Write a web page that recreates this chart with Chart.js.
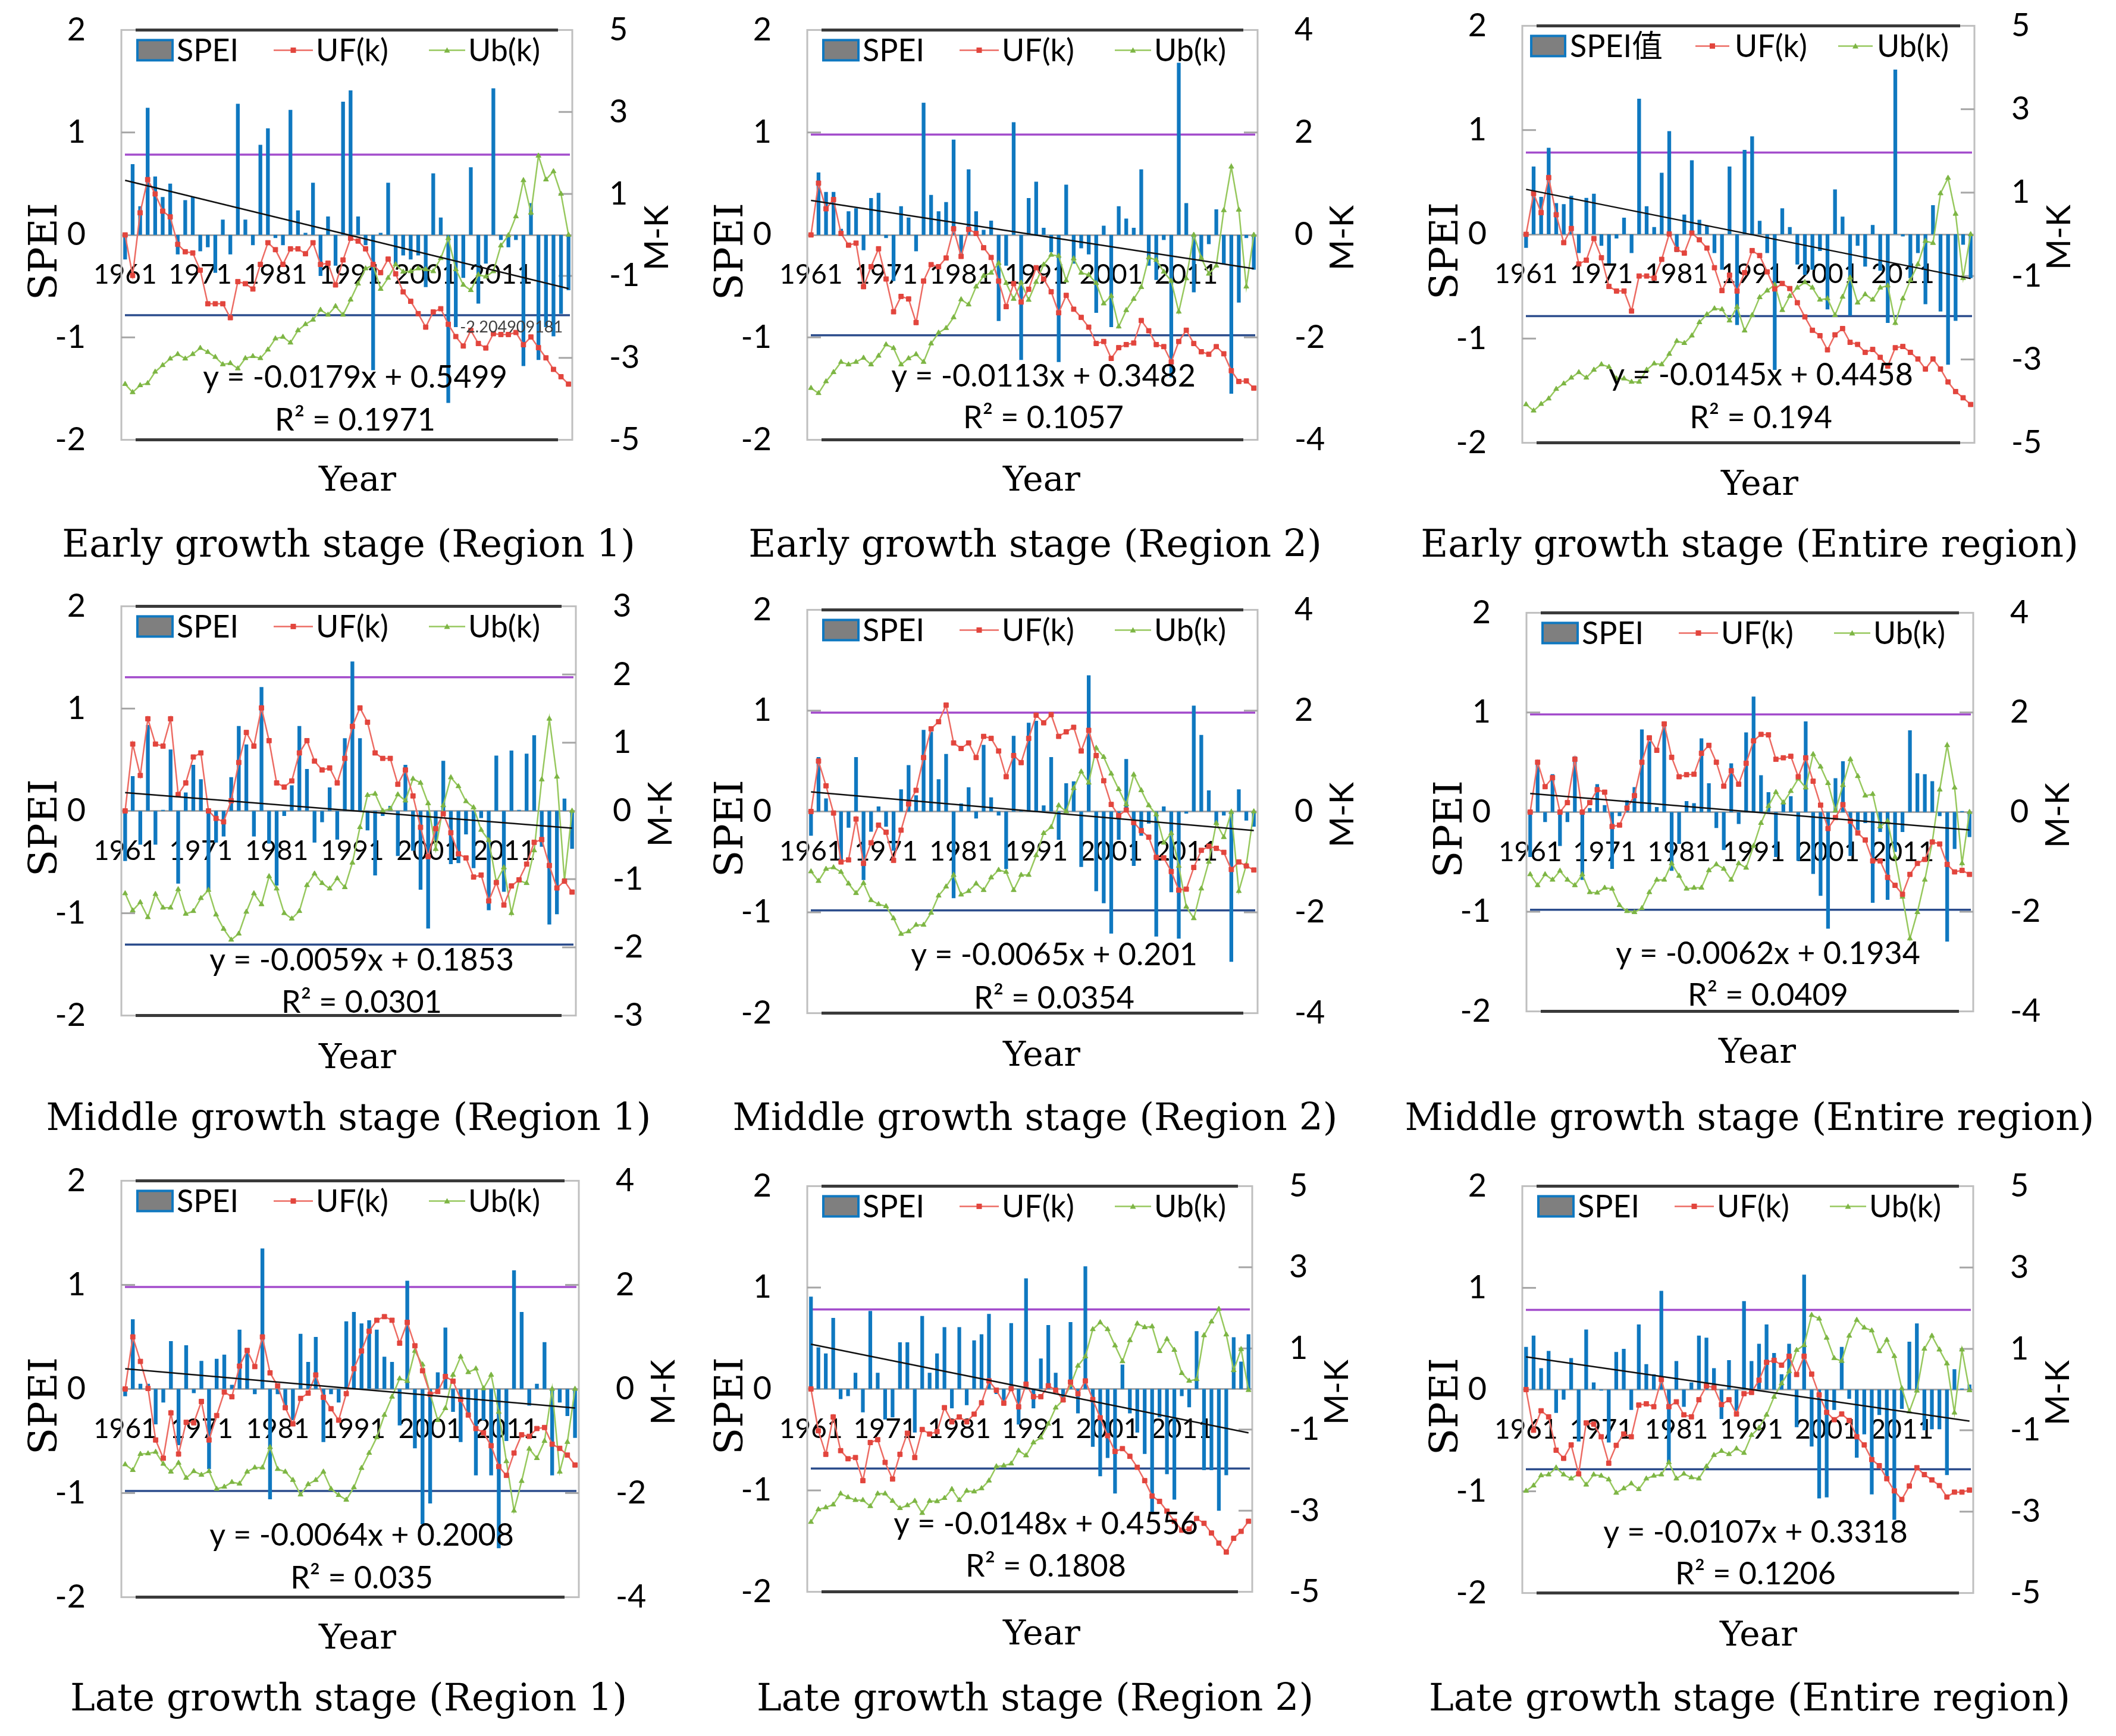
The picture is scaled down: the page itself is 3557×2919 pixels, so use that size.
<!DOCTYPE html>
<html>
<head>
<meta charset="utf-8">
<script src="https://cdn.jsdelivr.net/npm/chart.js@4.4.0/dist/chart.umd.min.js"></script>
<style>
  body { margin: 0; background: #fff; width: 3557px; height: 2919px; position: relative; overflow: hidden; }
  canvas { position: absolute; }
  .t { position: absolute; white-space: nowrap; color: #000; line-height: 1; }
  .serif { font-family: "DejaVu Serif", serif; }
  .sans { font-family: Lato, sans-serif; }
</style>
</head>
<body>
<script>
// years on the category axis
const years = Array.from({ length: 60 }, (_, i) => String(1961 + i));

// SPEI bars (left axis)
const spei1 = [-0.24,0.69,0.28,1.24,0.57,0.37,0.50,-0.19,0.34,0.37,-0.16,-0.12,-0.37,0.15,-0.19,1.28,0.15,-0.10,0.88,1.04,-0.03,-0.10,1.22,0.24,0.02,0.51,-0.40,0.18,-0.30,1.30,1.41,0.18,-0.10,-1.32,0.02,0.51,-0.30,-0.20,-0.24,-0.20,-0.51,0.60,0.17,-1.64,-0.90,-0.42,0.66,-0.67,-0.28,1.43,-0.05,-0.12,-0.05,-1.28,0.31,-1.22,-0.90,-0.99,-0.77,-0.54];
const spei2 = [0.02,0.61,0.42,0.42,0.06,0.23,0.26,-0.15,0.36,0.41,-0.03,-0.45,0.28,0.17,-0.16,1.29,0.39,0.23,0.32,0.93,-0.20,0.64,0.23,0.05,0.14,-0.84,-0.30,1.10,-1.22,0.36,0.52,0.07,-0.17,-1.24,0.49,-0.28,-0.13,-0.19,-0.76,0.09,-0.90,0.28,0.16,0.07,0.64,-0.30,-0.44,-0.05,-1.39,1.68,0.31,-0.56,-0.23,-0.09,0.25,-0.29,-1.55,-0.66,-0.03,-0.34];
const spei3 = [-0.13,0.65,0.36,0.83,0.30,0.29,0.37,-0.18,0.35,0.39,-0.11,-0.28,-0.04,0.16,-0.18,1.30,0.27,0.07,0.59,0.99,-0.17,0.19,0.71,0.14,0.08,-0.18,-0.34,0.65,-0.87,0.81,0.94,0.13,-0.18,-1.30,0.25,0.07,-0.29,-0.39,-0.34,-0.16,-0.72,0.43,0.17,-0.78,-0.11,-0.31,0.09,-0.35,-0.85,1.58,-0.02,-0.42,-0.18,-0.67,0.28,-0.74,-1.25,-0.83,-0.10,-0.42];
const spei4 = [-0.49,0.34,-0.33,0.84,-0.33,0.01,0.60,-0.71,0.18,0.45,0.31,-0.77,-0.31,-0.25,0.33,0.83,0.65,-0.25,1.21,-0.32,-0.73,-0.05,0.25,0.83,0.41,-0.31,-0.11,0.23,-0.28,0.71,1.46,0.71,-0.19,-0.63,-0.05,0.05,-0.44,0.45,-0.39,-0.77,-1.15,-0.29,0.49,-0.52,-0.51,-0.23,-0.56,-0.07,-0.97,0.54,-0.79,0.59,0.01,0.56,0.74,-0.35,-1.11,-1.01,0.12,-0.37];
const spei5 = [-0.24,0.54,0.13,-0.04,-0.50,-0.16,0.54,-0.68,-0.20,0.05,-0.15,-0.39,0.22,0.46,0.16,0.81,0.79,0.32,0.57,-0.86,0.08,0.24,-0.07,0.66,0.14,-0.04,-0.57,0.75,0.01,0.88,0.90,0.06,0.54,-0.28,0.28,0.30,-0.55,1.35,-0.79,-0.91,-1.21,-0.28,0.52,-0.54,-0.24,-0.12,-1.24,0.05,-0.80,-1.26,-0.02,1.05,0.76,0.21,-0.12,-0.04,-1.49,0.22,-0.09,-0.15];
const spei6 = [-0.45,0.48,-0.10,0.38,-0.34,-0.10,0.56,-0.68,0.04,0.28,0.07,-0.57,-0.04,0.12,0.25,0.83,0.71,0.05,0.86,-0.59,-0.32,0.11,0.09,0.74,0.29,-0.16,-0.38,0.49,-0.12,0.80,1.16,0.37,0.20,-0.45,0.12,0.16,-0.49,0.91,-0.62,-0.84,-1.17,0.34,0.51,-0.44,-0.18,-0.11,-0.91,-0.20,-0.88,-0.40,-0.20,0.82,0.39,0.38,0.31,-0.04,-1.30,-0.37,0.01,-0.25];
const spei7 = [-0.07,0.67,0.05,0.05,-0.34,-0.13,0.46,-0.54,0.42,-0.04,0.27,-0.77,0.29,0.33,0.04,0.57,0.37,-0.05,1.35,-1.06,-0.05,-0.18,-0.30,0.53,0.26,0.50,-0.51,-0.05,-0.13,0.65,0.74,0.63,0.66,0.57,0.31,0.26,-0.35,1.04,-0.57,-1.30,-1.10,0.16,0.59,-0.22,-0.51,-0.24,-0.83,-0.30,-0.83,-1.53,-0.50,1.14,0.74,-0.16,0.05,0.45,-0.83,-0.13,-0.26,-0.47];
const spei8 = [0.91,0.41,0.35,0.70,-0.10,-0.07,0.16,-0.23,0.77,0.16,-0.30,-0.28,0.46,0.46,-0.43,0.72,0.16,0.35,0.61,-0.19,0.61,-0.16,0.48,0.54,0.74,-0.05,-0.14,0.65,-0.35,1.09,-0.19,0.30,0.63,0.16,-0.09,0.66,-0.24,1.21,-0.57,-0.86,-0.68,-1.03,0.24,-0.24,-0.43,-0.64,-1.23,-0.28,-0.84,-1.09,-0.07,-0.18,0.57,-0.80,-0.80,-1.20,-0.85,0.51,0.27,0.54];
const spei9 = [0.42,0.53,0.21,0.38,-0.23,-0.10,0.31,-0.51,0.59,0.07,-0.01,-0.52,0.37,0.40,-0.20,0.64,0.25,0.15,0.97,-0.72,0.28,-0.17,0.07,0.53,0.51,0.21,-0.29,0.29,-0.21,0.87,0.28,0.45,0.64,0.36,0.15,0.45,-0.37,1.13,-0.56,-1.07,-1.06,-0.20,0.42,-0.09,-0.67,-0.44,-1.03,-0.25,-0.86,-1.28,-0.19,0.47,0.65,-0.40,-0.39,-0.39,-0.84,0.20,0.01,0.05];

// UF(k) statistic (right axis)
const uf1 = [0,-0.99,0.54,1.35,1.0,0.58,0.44,-0.23,-0.41,-0.44,-0.86,-1.68,-1.68,-1.68,-2.02,-1.14,-1.19,-1.32,-0.72,-0.19,-0.36,-0.72,-0.34,-0.34,-0.46,-0.19,-0.72,-0.69,-1.22,-0.61,-0.08,-0.15,-0.34,-0.72,-0.92,-0.59,-0.95,-1.39,-1.62,-1.92,-2.25,-1.88,-1.80,-2.18,-2.48,-2.71,-2.33,-2.65,-2.76,-2.41,-2.43,-2.43,-2.38,-2.68,-2.49,-2.75,-3.0,-3.28,-3.46,-3.64];
const uf2 = [0,1.01,0.51,0.69,0.03,-0.20,-0.16,-1.01,-0.62,-0.27,-0.86,-1.50,-1.20,-1.25,-1.71,-0.90,-0.58,-0.62,-0.45,0.12,-0.42,0.11,0.03,-0.25,-0.44,-0.90,-1.40,-0.95,-1.31,-1.06,-0.64,-0.86,-1.11,-1.52,-1.18,-1.45,-1.61,-1.80,-2.12,-2.08,-2.41,-2.20,-2.14,-2.11,-1.67,-1.87,-2.14,-2.18,-2.48,-2.08,-1.86,-2.12,-2.28,-2.33,-2.18,-2.32,-2.65,-2.86,-2.85,-2.99];
const uf3 = [0,0.98,0.52,1.36,0.47,-0.20,0.14,-0.71,-0.62,-0.10,-0.56,-1.25,-1.36,-1.36,-1.84,-1.0,-1.0,-1.05,-0.60,0.01,-0.36,-0.45,0.03,-0.13,-0.33,-0.80,-1.35,-0.98,-1.36,-0.92,-0.39,-0.51,-0.90,-1.31,-1.18,-1.30,-1.64,-1.98,-2.30,-2.43,-2.77,-2.41,-2.26,-2.59,-2.64,-2.83,-2.76,-2.95,-3.16,-2.72,-2.69,-2.83,-2.99,-3.23,-2.99,-3.23,-3.54,-3.77,-3.92,-4.08];
const uf4 = [0,0.98,0.52,1.35,0.98,0.95,1.35,0.24,0.41,0.79,0.85,0,-0.11,-0.16,0.15,0.71,1.15,0.95,1.51,1.03,0.41,0.35,0.44,0.85,1.03,0.73,0.60,0.63,0.41,0.77,1.24,1.51,1.30,0.85,0.77,0.77,0.39,0.60,0.22,-0.24,-0.67,-0.26,-0.04,-0.32,-0.63,-0.69,-0.97,-0.94,-1.32,-1.05,-1.38,-1.10,-1.01,-0.78,-0.46,-0.42,-0.80,-1.13,-1.03,-1.19];
const uf5 = [0,1.0,0.51,-0.03,-1.0,-0.96,-0.15,-1.03,-0.62,-0.27,-0.41,-0.97,-0.37,0.15,0.42,1.07,1.64,1.78,2.11,1.36,1.25,1.36,1.07,1.49,1.45,1.20,0.69,1.11,0.97,1.45,1.91,1.76,1.92,1.49,1.58,1.67,1.20,1.61,1.11,0.61,0.14,-0.08,0.03,-0.22,-0.38,-0.51,-0.91,-0.92,-1.19,-1.56,-1.54,-1.11,-0.77,-0.69,-0.73,-0.81,-1.15,-1.0,-1.08,-1.16];
const uf6 = [0,1.0,0.51,0.69,0,0.19,1.06,0,0.19,0.45,0.40,-0.29,-0.26,0.08,0.33,1.0,1.49,1.24,1.77,1.10,0.71,0.75,0.76,1.18,1.34,1.0,0.52,0.83,0.56,0.98,1.43,1.56,1.55,1.06,1.09,1.12,0.71,1.09,0.62,0.14,-0.33,-0.11,0.15,-0.18,-0.42,-0.56,-0.98,-0.98,-1.31,-1.47,-1.65,-1.25,-1.03,-0.95,-0.60,-0.64,-1.05,-1.20,-1.17,-1.25];
const uf7 = [0,1.0,0.53,0.01,-0.98,-1.33,-0.46,-1.25,-0.64,-0.65,-0.24,-0.98,-0.51,-0.06,-0.15,0.44,0.74,0.43,1.0,0.31,0.06,-0.36,-0.67,-0.18,-0.08,0.27,-0.16,-0.38,-0.60,-0.09,0.39,0.73,1.11,1.32,1.39,1.32,0.88,1.28,0.83,0.35,-0.10,-0.05,0.24,0.15,-0.20,-0.50,-0.76,-0.84,-1.09,-1.49,-1.66,-1.23,-0.88,-0.91,-0.76,-0.74,-1.06,-1.14,-1.27,-1.46];
const uf8 = [0,-1.03,-1.61,-0.69,-1.52,-1.72,-1.69,-2.26,-1.32,-1.25,-1.81,-2.22,-1.61,-1.09,-1.69,-1.0,-1.11,-1.05,-0.46,-0.81,-0.69,-0.81,-0.62,-0.34,0.20,-0.03,-0.35,0.01,-0.44,0.12,-0.19,-0.19,0.08,-0.03,-0.27,0.17,-0.12,0.20,-0.26,-0.71,-1.15,-1.54,-1.47,-1.66,-1.93,-2.26,-2.64,-2.77,-3.01,-3.26,-3.48,-3.45,-3.19,-3.31,-3.55,-3.80,-4.02,-3.68,-3.51,-3.26];
const uf9 = [0,-1.0,-0.52,-0.67,-1.49,-1.69,-1.36,-2.07,-0.82,-0.85,-1.16,-1.81,-1.37,-1.09,-1.16,-0.38,-0.35,-0.42,0.25,-0.42,-0.30,-0.62,-0.67,-0.25,0.09,0.05,-0.37,-0.25,-0.60,-0.10,-0.07,0.23,0.67,0.72,0.60,0.82,0.37,0.82,0.38,-0.13,-0.56,-0.74,-0.60,-0.76,-1.16,-1.36,-1.72,-1.87,-2.19,-2.49,-2.70,-2.37,-1.92,-2.09,-2.22,-2.36,-2.64,-2.52,-2.52,-2.47];

// Ub(k) statistic (right axis)
const ub1 = [-3.64,-3.84,-3.67,-3.62,-3.34,-3.18,-3.02,-2.91,-3.02,-2.91,-2.76,-2.86,-2.98,-3.16,-3.13,-3.26,-3.01,-2.96,-3.01,-2.80,-2.53,-2.49,-2.63,-2.33,-2.18,-2.07,-1.83,-1.95,-1.74,-1.95,-1.58,-1.19,-0.82,-0.74,-1.32,-1.05,-0.72,-0.90,-0.89,-0.82,-0.84,-0.89,-0.57,-0.08,-0.84,-1.22,-1.35,-0.97,-1.02,-0.89,-0.26,-0.01,0.45,1.33,0.54,1.93,1.35,1.55,1.00,0];
const ub2 = [-2.99,-3.09,-2.86,-2.68,-2.48,-2.53,-2.48,-2.40,-2.53,-2.36,-2.14,-2.21,-2.53,-2.41,-2.33,-2.48,-2.12,-1.91,-1.82,-1.61,-1.26,-1.36,-1.01,-0.80,-0.74,-0.55,-0.94,-1.25,-0.93,-1.27,-0.92,-0.58,-0.39,-0.41,-0.89,-0.46,-0.74,-0.78,-0.94,-1.34,-1.19,-1.79,-1.47,-1.25,-1.02,-0.44,-0.49,-0.72,-0.90,-1.50,-0.85,0,-0.45,-0.76,-0.60,0.48,1.33,0.49,-1.01,0];
const ub3 = [-4.08,-4.23,-4.07,-3.94,-3.71,-3.58,-3.44,-3.31,-3.44,-3.25,-3.12,-3.18,-3.46,-3.46,-3.54,-3.54,-3.25,-3.10,-3.12,-2.87,-2.56,-2.61,-2.43,-2.11,-1.92,-1.78,-1.80,-2.07,-1.74,-2.31,-1.94,-1.51,-1.35,-1.21,-1.82,-1.48,-1.28,-1.15,-1.28,-1.57,-1.54,-1.94,-1.50,-1.04,-1.64,-1.44,-1.57,-1.28,-1.23,-2.13,-1.54,-1.10,-0.72,-0.16,-0.21,0.98,1.35,0.49,-1.05,0];
const ub4 = [-1.21,-1.46,-1.34,-1.56,-1.22,-1.42,-1.42,-1.15,-1.51,-1.47,-1.28,-1.16,-1.52,-1.73,-1.89,-1.80,-1.48,-1.21,-1.37,-0.96,-1.14,-1.50,-1.58,-1.47,-1.09,-0.92,-1.06,-1.14,-0.99,-1.12,-0.76,-0.24,0.23,0.25,0,0.03,0.24,0.15,0.47,0.41,0.11,-0.56,0.08,0.49,0.36,0.14,0.05,-0.28,-0.43,-1.04,-0.83,-1.50,-1.02,-1.06,-0.58,0.46,1.35,0.50,-1.02,0];
const ub5 = [-1.19,-1.38,-1.14,-1.11,-1.20,-1.43,-1.62,-1.42,-1.76,-1.84,-1.88,-2.12,-2.43,-2.38,-2.25,-2.25,-2.01,-1.67,-1.49,-1.26,-1.65,-1.58,-1.43,-1.56,-1.31,-1.16,-1.20,-1.56,-1.26,-1.26,-0.87,-0.43,-0.31,0.12,0,0.46,0.79,0.57,1.26,1.08,0.75,0.44,0.14,0.73,0.42,0.12,-0.06,-0.62,-0.43,-1.08,-1.89,-2.12,-1.53,-1.0,-0.23,-0.51,-0.01,-1.58,-1.06,0];
const ub6 = [-1.25,-1.47,-1.25,-1.36,-1.18,-1.36,-1.47,-1.25,-1.61,-1.62,-1.52,-1.54,-1.87,-1.99,-2.01,-1.93,-1.61,-1.36,-1.36,-1.03,-1.28,-1.54,-1.52,-1.52,-1.17,-1.05,-1.14,-1.36,-1.03,-1.12,-0.68,-0.22,0.12,0.40,0.19,0.42,0.67,0.49,1.16,0.91,0.58,0.03,0.54,1.06,0.72,0.33,0.36,-0.29,-0.18,-0.90,-1.70,-2.54,-2.01,-1.36,-0.60,0.45,1.34,0.49,-1.03,0];
const ub7 = [-1.45,-1.56,-1.25,-1.24,-1.21,-1.44,-1.59,-1.42,-1.71,-1.58,-1.65,-1.58,-1.92,-1.88,-1.79,-1.82,-1.59,-1.51,-1.51,-1.12,-1.54,-1.59,-1.75,-2.03,-1.83,-1.75,-1.59,-1.92,-2.04,-2.13,-1.89,-1.52,-1.23,-0.93,-0.50,-0.15,0.20,0.15,0.73,0.47,-0.09,-0.60,-0.37,0.27,0.62,0.32,0.39,0.01,0.27,-0.44,-1.39,-2.34,-1.77,-1.15,-1.33,-1.0,0,-1.59,-1.02,0];
const ub8 = [-3.28,-2.97,-2.92,-2.85,-2.58,-2.67,-2.74,-2.74,-2.89,-2.58,-2.58,-2.76,-2.94,-2.87,-2.76,-3.06,-2.76,-2.77,-2.69,-2.47,-2.74,-2.51,-2.53,-2.45,-2.26,-1.91,-1.89,-1.84,-1.52,-1.64,-1.32,-1.20,-0.86,-0.46,-0.27,0.10,0.57,0.80,1.47,1.64,1.47,1.07,0.68,1.20,1.61,1.52,1.54,0.93,1.23,0.96,0.39,0.20,0.24,1.32,1.66,1.97,1.34,0.46,0.98,-0.03];
const ub9 = [-2.49,-2.36,-2.11,-2.09,-1.92,-2.09,-2.19,-2.07,-2.34,-2.09,-2.12,-2.21,-2.54,-2.43,-2.31,-2.45,-2.19,-2.12,-2.09,-1.79,-2.19,-2.07,-2.16,-2.19,-1.89,-1.61,-1.51,-1.59,-1.45,-1.56,-1.12,-0.94,-0.62,-0.18,0.15,0.45,0.97,1.09,1.83,1.74,1.27,0.77,0.70,1.32,1.71,1.52,1.45,0.94,1.22,0.82,0.03,-0.54,-0.03,1.0,1.32,0.98,0.64,-0.57,0.98,-0.02];

// linear trend of SPEI (y = a*x + b, x = 1..60) and R²
const trendSlope = [-0.0179, -0.0113, -0.0145, -0.0059, -0.0065, -0.0062, -0.0064, -0.0148, -0.0107];
const trendIntercept = [0.5499, 0.3482, 0.4458, 0.1853, 0.201, 0.1934, 0.2008, 0.4556, 0.3318];
const rSquared = [0.1971, 0.1057, 0.194, 0.0301, 0.0354, 0.0409, 0.035, 0.1808, 0.1206];

// M-K axis range and step, critical values
const mkMax = [5, 4, 5, 3, 4, 4, 4, 5, 5];
const mkStep = [2, 2, 2, 1, 2, 2, 2, 2, 2];
const critical = [1.96, -1.96];

const captions = [
  'Early growth stage (Region 1)', 'Early growth stage (Region 2)', 'Early growth stage (Entire region)',
  'Middle growth stage (Region 1)', 'Middle growth stage (Region 2)', 'Middle growth stage (Entire region)',
  'Late growth stage (Region 1)', 'Late growth stage (Region 2)', 'Late growth stage (Entire region)'
];
const speiLegend = ['SPEI', 'SPEI', 'SPEI值', 'SPEI', 'SPEI', 'SPEI', 'SPEI', 'SPEI', 'SPEI'];

const speiData = [spei1, spei2, spei3, spei4, spei5, spei6, spei7, spei8, spei9];
const ufData = [uf1, uf2, uf3, uf4, uf5, uf6, uf7, uf8, uf9];
const ubData = [ub1, ub2, ub3, ub4, ub5, ub6, ub7, ub8, ub9];

// ---- layout (page pixels) ----
const frames = [
  [204, 50, 962, 740], [1357, 50, 2114, 740], [2559, 43, 3319, 745],
  [204, 1019, 968, 1708], [1357, 1025, 2114, 1704], [2566, 1030, 3317, 1701],
  [204, 1985, 973, 2686], [1357, 1994, 2105, 2677], [2559, 1994, 3317, 2679]
];
const eqPos = [
  [597, 635, 707], [1754, 633, 703], [2960, 631, 703],
  [608, 1615, 1686], [1772, 1606, 1679], [2972, 1604, 1674],
  [608, 2582, 2654], [1758, 2563, 2634], [2951, 2577, 2647]
];
const yearPos = [[601, 805], [1751, 805], [2958, 812], [601, 1776], [1751, 1772], [2954, 1767], [601, 2752], [1751, 2745], [2956, 2747]];
const capX = [586, 1740, 2941];
const capY = [914, 1878, 2854];
const legendStd = { box: [27, 86], text: 93, uf: [256, 322], ufText: 327, ub: [517, 578], ubText: 583 };
const legendWide = { box: [15, 72], text: 80, uf: [291, 348], ufText: 357, ub: [531, 589], ubText: 596 };

const SIDE = 200, VPAD = 40;
const BLUE = '#0f78c0', RED = '#e2453d', RED_L = '#ec6b63', GREEN = '#7db544', GREEN_L = '#97c85e';
const SANS = 'Lato, "Noto Sans CJK SC", sans-serif';

function addText(txt, x, y, cls, size, rotate) {
  const d = document.createElement('div');
  d.className = 't ' + cls;
  d.textContent = txt;
  d.style.left = x + 'px';
  d.style.top = y + 'px';
  d.style.fontSize = size + 'px';
  d.style.transform = 'translate(-50%,-50%)' + (rotate ? ' rotate(-90deg)' : '');
  document.body.appendChild(d);
}

function line(ctx, x1, y1, x2, y2) {
  ctx.beginPath(); ctx.moveTo(x1, y1); ctx.lineTo(x2, y2); ctx.stroke();
}

const decor = {
  id: 'decor',
  beforeDatasetsDraw(chart, args, o) {
    const { ctx, chartArea: a, scales } = chart;
    ctx.save();
    ctx.strokeStyle = '#bfbfbf'; ctx.lineWidth = 3;
    ctx.strokeRect(a.left, a.top, a.width, a.height);
    ctx.strokeStyle = '#3a3a3a'; ctx.lineWidth = 5;
    line(ctx, a.left + 24, a.top, a.right - 24, a.top);
    line(ctx, a.left + 24, a.bottom, a.right - 24, a.bottom);
    // short inner tick marks
    ctx.strokeStyle = '#a6a6a6'; ctx.lineWidth = 3;
    scales.y.ticks.forEach(t => {
      if (t.value > scales.y.min && t.value < scales.y.max && t.value !== 0) {
        const py = scales.y.getPixelForValue(t.value);
        line(ctx, a.left, py, a.left + 23, py);
      }
    });
    scales.y2.ticks.forEach(t => {
      if (t.value > scales.y2.min && t.value < scales.y2.max && t.value !== 0) {
        const py = scales.y2.getPixelForValue(t.value);
        line(ctx, a.right - 23, py, a.right, py);
      }
    });
    // critical value lines of the M-K test
    ctx.lineWidth = 3.5;
    ctx.strokeStyle = '#a34ccc';
    let py = scales.y2.getPixelForValue(critical[0]);
    line(ctx, a.left + 6, py, a.right - 4, py);
    ctx.strokeStyle = '#2b4c8c';
    py = scales.y2.getPixelForValue(critical[1]);
    line(ctx, a.left + 6, py, a.right - 4, py);
    ctx.restore();
  },
  afterDraw(chart, args, o) {
    const { ctx, chartArea: a } = chart;
    const lg = o.legend;
    const ly = a.top + 34;
    // page -> canvas offset: chart area left/top sit on the frame
    const dx = a.left - o.frame[0], dy = a.top - o.frame[1];
    ctx.save();
    // legend
    ctx.fillStyle = '#7f7f7f'; ctx.strokeStyle = BLUE; ctx.lineWidth = 4;
    ctx.fillRect(a.left + lg.box[0], ly - 17, lg.box[1] - lg.box[0], 34);
    ctx.strokeRect(a.left + lg.box[0], ly - 17, lg.box[1] - lg.box[0], 34);
    ctx.font = '52px ' + SANS; ctx.fillStyle = '#000'; ctx.textBaseline = 'middle'; ctx.textAlign = 'left';
    ctx.fillText(o.speiLabel, a.left + lg.text, ly + 2);
    ctx.fillText('UF(k)', a.left + lg.ufText, ly + 2);
    ctx.fillText('Ub(k)', a.left + lg.ubText, ly + 2);
    ctx.lineWidth = 2.5;
    ctx.strokeStyle = RED_L; line(ctx, a.left + lg.uf[0], ly, a.left + lg.uf[1], ly);
    ctx.fillStyle = RED;
    const mx = a.left + (lg.uf[0] + lg.uf[1]) / 2;
    ctx.fillRect(mx - 4.5, ly - 4.5, 9, 9);
    ctx.strokeStyle = GREEN_L; line(ctx, a.left + lg.ub[0], ly, a.left + lg.ub[1], ly);
    ctx.fillStyle = GREEN;
    const gx = a.left + (lg.ub[0] + lg.ub[1]) / 2;
    ctx.beginPath(); ctx.moveTo(gx, ly - 5); ctx.lineTo(gx + 5, ly + 4); ctx.lineTo(gx - 5, ly + 4); ctx.closePath(); ctx.fill();
    // trend equation
    ctx.fillStyle = '#000'; ctx.textAlign = 'center';
    ctx.font = '52px ' + SANS;
    ctx.fillText(o.eq, o.eqX + dx, o.eqY + dy);
    ctx.fillText(o.r2, o.eqX + dx, o.r2Y + dy);
    if (o.note) {
      ctx.font = '27px ' + SANS; ctx.fillStyle = '#404040';
      ctx.fillText(o.note.text, chart.scales.x.getPixelForValue(o.note.x), chart.scales.y.getPixelForValue(o.note.y));
    }
    ctx.restore();
  }
};

function buildConfig(k) {
  const a = trendSlope[k], b = trendIntercept[k];
  return {
    type: 'bar',
    data: {
      labels: years,
      datasets: [
        { type: 'line', label: 'trend', yAxisID: 'y', order: 0,
          data: [{ x: years[0], y: a * 1 + b }, { x: years[years.length - 1], y: a * years.length + b }],
          borderColor: '#111', borderWidth: 2.5, pointRadius: 0 },
        { type: 'line', label: 'UF(k)', yAxisID: 'y2', order: 1, data: ufData[k],
          borderColor: RED_L, borderWidth: 2.5, pointStyle: 'rect', pointRadius: 5.5,
          pointBackgroundColor: RED, pointBorderColor: RED, pointBorderWidth: 1 },
        { type: 'line', label: 'Ub(k)', yAxisID: 'y2', order: 2, data: ubData[k],
          borderColor: GREEN_L, borderWidth: 2.5, pointStyle: 'triangle', pointRadius: 5,
          pointBackgroundColor: GREEN, pointBorderColor: GREEN, pointBorderWidth: 1 },
        { type: 'bar', label: 'SPEI', yAxisID: 'y', order: 3, data: speiData[k],
          backgroundColor: BLUE, barPercentage: 0.5, categoryPercentage: 1 }
      ]
    },
    options: {
      responsive: false,
      maintainAspectRatio: false,
      animation: false,
      devicePixelRatio: 1,
      layout: { padding: { top: VPAD, bottom: VPAD, left: 0, right: 0 } },
      plugins: {
        legend: { display: false },
        tooltip: { enabled: false },
        decor: {
          frame: frames[k],
          legend: k === 2 ? legendWide : legendStd,
          speiLabel: speiLegend[k],
          eq: 'y = ' + a + 'x + ' + b,
          r2: 'R² = ' + rSquared[k],
          eqX: eqPos[k][0], eqY: eqPos[k][1], r2Y: eqPos[k][2],
          note: k === 0 ? { text: '-2.204909181', x: 51.4, y: -0.9 } : null
        }
      },
      scales: {
        x: {
          type: 'category', position: { y: 0 }, offset: true, z: 1,
          grid: { display: false, drawTicks: false },
          border: { display: true, color: '#a6a6a6', width: 3 },
          ticks: {
            autoSkip: false, maxRotation: 0, minRotation: 0, padding: 40, color: '#000',
            font: { family: SANS, size: 46 },
            callback: (v, i) => (i % 10 === 0 ? years[i] : '')
          }
        },
        y: {
          position: 'left', min: -2, max: 2,
          grid: { display: false, drawTicks: false }, border: { display: false },
          ticks: { stepSize: 1, padding: 60, color: '#000', font: { family: SANS, size: 54 } },
          afterFit: s => { s.width = SIDE; }
        },
        y2: {
          position: 'right', min: -mkMax[k], max: mkMax[k],
          grid: { display: false, drawTicks: false }, border: { display: false },
          ticks: { stepSize: mkStep[k], padding: 62, color: '#000', font: { family: SANS, size: 54 } },
          afterFit: s => { s.width = SIDE; }
        }
      }
    },
    plugins: [decor]
  };
}

function placeCanvas(cv, x, y, w, h) {
  cv.width = w; cv.height = h;
  cv.style.left = x + 'px'; cv.style.top = y + 'px';
  cv.style.width = w + 'px'; cv.style.height = h + 'px';
}

frames.forEach((f, k) => {
  const [L, T, R, B] = f;
  const cv = document.createElement('canvas');
  document.body.appendChild(cv);

  // first pass: measure how much room the axes take around the plot area
  let w = R - L + 2 * SIDE, h = B - T + 2 * VPAD;
  placeCanvas(cv, L - SIDE, T - VPAD, w, h);
  let chart = new Chart(cv, buildConfig(k));
  const ca = chart.chartArea;
  const pl = ca.left, pt = ca.top, pr = w - ca.right, pb = h - ca.bottom;
  chart.destroy();

  // second pass: size the canvas so the plot area lands on the frame
  w = R - L + pl + pr; h = B - T + pt + pb;
  placeCanvas(cv, L - pl, T - pt, w, h);
  chart = new Chart(cv, buildConfig(k));

  addText('SPEI', L - 131, (T + B) / 2 + 28, 'serif', 66, true);
  addText('M-K', R + 140, (T + B) / 2 + 5, 'sans', 56, true);
  addText('Year', yearPos[k][0], yearPos[k][1], 'serif', 58, false);
  addText(captions[k], capX[k % 3], capY[Math.floor(k / 3)], 'serif', 63, false);
});
</script>
</body>
</html>
